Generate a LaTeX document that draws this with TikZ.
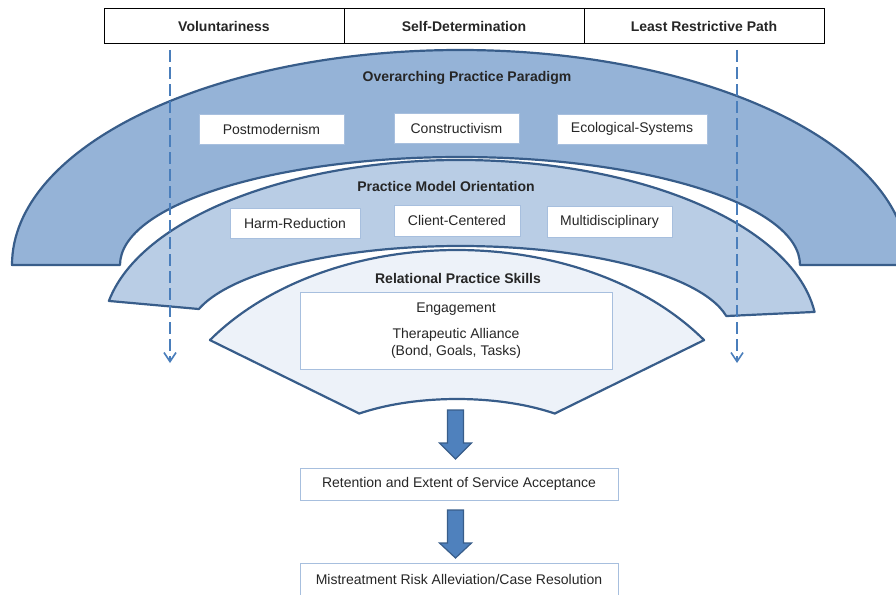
\documentclass[tikz,border=0pt]{standalone}
\usepackage{fontspec}
\setmainfont{Liberation Sans}
\usetikzlibrary{positioning, arrows.meta, calc}
\definecolor{paradigmblue}{HTML}{95B3D7}
\definecolor{modelblue}{HTML}{B9CDE5}
\definecolor{skillblue}{HTML}{EDF2F9}
\definecolor{edgeblue}{HTML}{385D8A}
\definecolor{guideblue}{HTML}{4A7EBB}
\definecolor{itemline}{HTML}{A7BFDE}
\definecolor{flowblue}{HTML}{4F81BD}

\begin{document}
\begin{tikzpicture}[x=1pt, y=-1pt,
    every node/.style={font=\fontsize{14}{17}\selectfont, text=black!85},
    head/.style={rectangle, draw=black, line width=1pt, outer sep=0pt, minimum width=240pt, minimum height=35pt, font=\fontsize{14}{17}\selectfont\bfseries},
    band/.style={draw=edgeblue, line width=2.2pt, line join=round},
    item/.style={rectangle, fill=white, draw=itemline, line width=0.8pt, minimum height=30pt, inner sep=0pt},
    title/.style={font=\fontsize{14}{17}\selectfont\bfseries},
    guide/.style={guideblue, line width=1.6pt, dash pattern=on 12pt off 5pt, -{Straight Barb[length=9pt, width=12pt, line width=1.6pt]}},
    flow/.style={fill=flowblue, draw=edgeblue, line width=1.2pt, line join=miter}]
  \useasboundingbox (0,0) rectangle (896,594);
  \clip (0,0) rectangle (896,594);

  % Header
  \node[head] (vol) at (224,26.5) {Voluntariness};
  \node[head, right=0pt of vol] (selfdet) {Self-Determination};
  \node[head, right=0pt of selfdet] (least) {Least Restrictive Path};

  % Bands
  \coordinate (paradigmc) at (460,265);
  \coordinate (modelc) at (460,332);
  \coordinate (skillc) at (457,462);
  \filldraw[band, fill=paradigmblue] (paradigmc) ++(180:448 and 215)
    arc[start angle=180, end angle=360, x radius=448, y radius=215] -- ++(-108,0)
    arc[start angle=360, end angle=180, x radius=340, y radius=108] -- cycle;
  \filldraw[band, fill=modelblue] (modelc) ++(190.4:357 and 172)
    arc[start angle=190.4, end angle=353.3, x radius=357, y radius=172]
    -- ($(modelc)+(349.3:271 and 86)$)
    arc[start angle=349.3, end angle=195.5, x radius=271, y radius=86] -- cycle;
  \filldraw[band, fill=skillblue] (skillc) ++(215.1:302 and 212)
    arc[start angle=215.1, end angle=324.9, x radius=302, y radius=212]
    -- ($(skillc)+(309.7:153 and 63)$)
    arc[start angle=309.7, end angle=230.3, x radius=153, y radius=63] -- cycle;

  % Guides
  \coordinate (volstart) at (170,50);
  \coordinate (volend) at (170,363);
  \coordinate (leaststart) at (737,50);
  \coordinate (leastend) at (737,363);
  \draw[guide] (volstart) -- (volend);
  \draw[guide] (leaststart) -- (leastend);

  % Paradigm
  \node[title] (paradigm) at (467,78) {Overarching Practice Paradigm};
  \node[item, minimum width=145pt] (postmod) at (271.5,129) {Postmodernism};
  \node[item, minimum width=125pt] (construct) at (456.5,128) {Constructivism};
  \node[item, minimum width=150pt] (ecosys) at (632,129) {Ecological-Systems};

  % Model
  \node[title] (model) at (446,186) {Practice Model Orientation};
  \node[item, minimum width=130pt] (harm) at (295,223) {Harm-Reduction};
  \node[item, minimum width=126pt, minimum height=31pt] (client) at (457,220.5) {Client-Centered};
  \node[item, minimum width=125pt, minimum height=31pt] (multi) at (609.5,221.5) {Multidisciplinary};

  % Skills
  \node[title] (relational) at (458,278) {Relational Practice Skills};
  \node[item, minimum width=312pt, minimum height=77pt, align=center] (skills) at (456,330.5)
    {Engagement\\[9pt]Therapeutic Alliance\\(Bond, Goals, Tasks)};

  % Outcomes
  \node[item, minimum width=318pt, minimum height=32pt] (retention) at (459,484) {Retention and Extent of Service Acceptance};
  \node[item, minimum width=318pt, minimum height=33pt] (resolution) at (459,579.5) {Mistreatment Risk Alleviation/Case Resolution};
  \coordinate (flowone) at (455.5,410);
  \coordinate (flowtwo) at (455.5,510);
  \filldraw[flow] (flowone) ++(-8,0) -- ++(16,0) -- ++(0,33) -- ++(8,0) -- ++(-16,16) -- ++(-16,-16) -- ++(8,0) -- cycle;
  \filldraw[flow] (flowtwo) ++(-8,0) -- ++(16,0) -- ++(0,33) -- ++(8,0) -- ++(-16,15) -- ++(-16,-15) -- ++(8,0) -- cycle;
\end{tikzpicture}
\end{document}
